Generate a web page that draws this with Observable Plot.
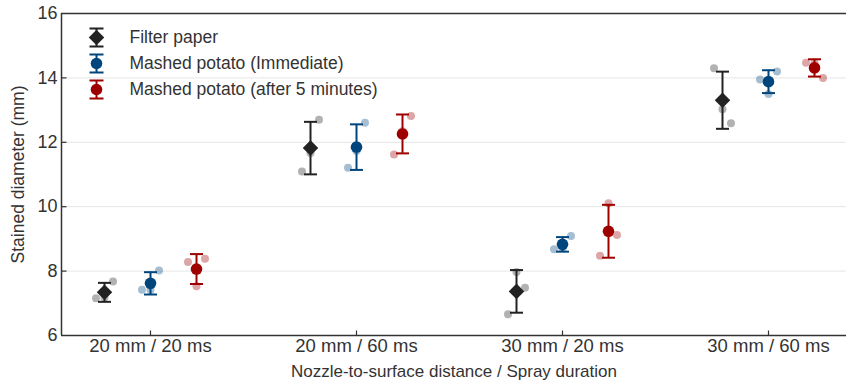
<!DOCTYPE html>
<html><head><meta charset="utf-8">
<script src="https://cdn.jsdelivr.net/npm/d3@7"></script>
<script src="https://cdn.jsdelivr.net/npm/@observablehq/plot@0.6"></script>
<style>body{margin:0;background:#fff}#chart{width:846px;height:383px}</style>
</head><body><div id="chart"></div>
<script>
// ---- data ----
const conditions = ["20 mm / 20 ms", "20 mm / 60 ms", "30 mm / 20 ms", "30 mm / 60 ms"];
const seriesNames = ["Filter paper", "Mashed potato (Immediate)", "Mashed potato (after 5 minutes)"];
// replicate measurements (mm), 3 per condition, in replicate order
const filterPaper     = [[7.16, 7.68, 7.18], [11.09, 12.70, 11.67], [6.66, 7.48, 7.97], [14.30, 12.59, 13.03]];
const mashedImmediate = [[7.42, 8.02, 7.42], [11.21, 12.61, 11.73], [8.68, 9.09, 8.72], [13.95, 14.20, 13.50]];
const mashedAfter5    = [[8.28, 8.38, 7.53], [11.62, 12.82, 12.34], [8.48, 9.12, 10.11], [14.47, 14.00, 14.46]];
const yTicks = [6, 8, 10, 12, 14, 16];
const gridValues = [8, 10, 12, 14];
const xTitle = "Nozzle-to-surface distance / Spray duration";
const yTitle = "Stained diameter (mm)";

// ---- styling / layout ----
const seriesColors = ["#222222", "#00457c", "#9e0000"];
const seriesSymbols = ["diamond2", "circle", "circle"];
const seriesR = [7, 5.8, 5.8];
const W = 846, H = 383, mL = 61, mR = 0, mT = 13, mB = 48;
const groupStep = 206, firstCenter = 150;
const xDomain = [(mL - firstCenter) / groupStep, (W - mR - firstCenter) / groupStep];
const seriesOffset = 46 / groupStep;
const jitterStep = 8.5 / groupStep;
const jitterOrder = [-1, 1, 0];

const allSeries = [filterPaper, mashedImmediate, mashedAfter5];
const stats = [], raw = [];
allSeries.forEach((groups, k) => {
  groups.forEach((vals, i) => {
    const cx = i + (k - 1) * seriesOffset;
    const m = d3.mean(vals), sd = d3.deviation(vals);
    stats.push({series: seriesNames[k], k, x: cx, mean: m, lo: m - sd, hi: m + sd});
    vals.forEach((v, j) => raw.push({series: seriesNames[k], x: cx + jitterOrder[j] * jitterStep, y: v}));
  });
});

const sym = (f) => ({draw(ctx) { f(ctx); }});
const capSym = sym(c => { c.moveTo(-6.5, 0); c.lineTo(6.5, 0); });
const yTickSym = sym(c => { c.moveTo(0, 0); c.lineTo(5, 0); });
const xTickSym = sym(c => { c.moveTo(0, 0); c.lineTo(0, -5); });
const legendBar = sym(c => { c.moveTo(0, -9); c.lineTo(0, 9); c.moveTo(-7, -9); c.lineTo(7, -9); c.moveTo(-7, 9); c.lineTo(7, 9); });

const marks = [
  Plot.ruleY(gridValues, {stroke: "#e6e6e6", strokeWidth: 1}),
  Plot.ruleY([yTicks[0], yTicks[yTicks.length - 1]], {stroke: "#333", strokeWidth: 1.5}),
  Plot.ruleX([xDomain[0]], {stroke: "#333", strokeWidth: 1.5}),
  Plot.dot(yTicks.slice(1, -1), {x: xDomain[0], y: d => d, symbol: yTickSym, stroke: "#333", fill: "none", strokeWidth: 1.2}),
  Plot.dot(d3.range(conditions.length), {x: d => d, y: yTicks[0], symbol: xTickSym, stroke: "#333", fill: "none", strokeWidth: 1.2}),
  Plot.dot(raw, {x: "x", y: "y", fill: "series", fillOpacity: 0.35, r: 4, stroke: "none"}),
  Plot.ruleX(stats, {x: "x", y1: "lo", y2: "hi", stroke: "series", strokeWidth: 2}),
  Plot.dot(stats, {x: "x", y: "lo", symbol: capSym, stroke: "series", fill: "none", strokeWidth: 2}),
  Plot.dot(stats, {x: "x", y: "hi", symbol: capSym, stroke: "series", fill: "none", strokeWidth: 2}),
  ...seriesNames.map((name, k) => Plot.dot(stats.filter(d => d.k === k), {x: "x", y: "mean", fill: "series", symbol: seriesSymbols[k], r: seriesR[k], stroke: "none"})),
  Plot.axisX({ticks: d3.range(conditions.length), tickFormat: i => conditions[i], tickSize: 0, tickPadding: 3, fontSize: 18.5, label: null}),
  Plot.axisY({ticks: yTicks, tickSize: 0, tickPadding: 4, fontSize: 18, label: null}),
  Plot.text([xTitle], {frameAnchor: "bottom", dy: 36, text: d => d, lineAnchor: "middle", fontSize: 17, fill: "#333"}),
  Plot.text([yTitle], {frameAnchor: "left", dx: -43, rotate: -90, text: d => d, lineAnchor: "middle", textAnchor: "middle", fontSize: 17.5, fill: "#333"})
];

seriesNames.forEach((name, k) => {
  const dy = 24 + 26 * k;
  marks.push(Plot.dot([name], {frameAnchor: "top-left", dx: 35, dy, symbol: legendBar, stroke: d => d, fill: "none", strokeWidth: 2}));
  marks.push(Plot.dot([name], {frameAnchor: "top-left", dx: 35, dy, symbol: seriesSymbols[k], r: seriesR[k], fill: d => d, stroke: "none"}));
  marks.push(Plot.text([name], {frameAnchor: "top-left", dx: 68, dy, text: d => d, textAnchor: "start", lineAnchor: "middle", fill: "#333"}));
});

const chart = Plot.plot({
  width: W, height: H,
  marginLeft: mL, marginRight: mR, marginTop: mT, marginBottom: mB,
  style: {fontFamily: "'Liberation Sans', Arial, sans-serif", fontSize: "17.5px", color: "#333", background: "#fff"},
  x: {type: "linear", domain: xDomain},
  y: {domain: [yTicks[0], yTicks[yTicks.length - 1]]},
  color: {domain: seriesNames, range: seriesColors},
  marks
});
document.getElementById("chart").appendChild(chart);
</script>
</body></html>
